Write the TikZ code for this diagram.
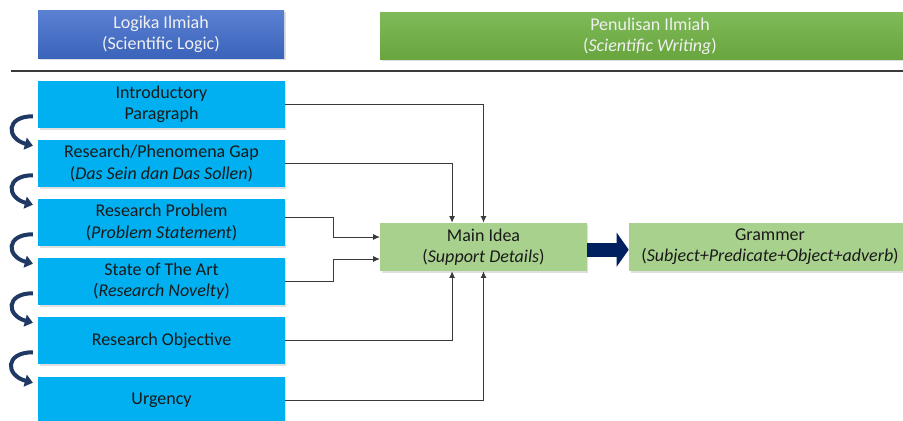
\documentclass[tikz,border=0pt]{standalone}
\usepackage{fontspec}
\setmainfont{Carlito}
\usetikzlibrary{arrows.meta,shadows}

\definecolor{logictop}{HTML}{5A80D2}
\definecolor{logicbot}{HTML}{3A63BA}
\definecolor{writetop}{HTML}{7EBA57}
\definecolor{writebot}{HTML}{68A53E}
\definecolor{skyblue}{HTML}{00B0F0}
\definecolor{leafgreen}{HTML}{A9D18E}
\definecolor{navyarrow}{HTML}{1F3864}
\definecolor{darknavy}{HTML}{002060}
\definecolor{linegray}{HTML}{3A3A3A}
\definecolor{inktext}{HTML}{1A1A1A}

\tikzset{
  shade/.style={drop shadow={opacity=0.25, shadow xshift=1.2pt, shadow yshift=-1.2pt}},
  header/.style={shade, minimum height=35.5pt, align=center, text=white!94!black, inner sep=0pt},
  logic/.style={shade, fill=skyblue, minimum width=185pt, minimum height=35.25pt, align=center, text=inktext, inner sep=0pt},
  idea/.style={shade, fill=leafgreen, minimum height=36pt, align=center, text=inktext, inner sep=0pt},
  link/.style={draw=linegray, line width=0.75pt, -{Latex[length=5pt,width=4.5pt]}},
  turn/.style={draw=navyarrow, line width=3pt, -{Triangle[length=6pt,width=9pt]}},
}

\begin{document}
\begin{tikzpicture}[x=0.75pt, y=-0.75pt, font=\fontsize{13.5pt}{16pt}\selectfont]
  \clip (0,0) rectangle (903,421);

  % headers
  \node[header, top color=logictop, bottom color=logicbot, minimum width=184.5pt] (logic) at (161,34.5) {Logika Ilmiah\\(Scientific Logic)};
  \node[header, top color=writetop, bottom color=writebot, minimum width=405pt] (writing) at (650,36) {Penulisan Ilmiah\\(\textit{Scientific Writing})};
  \draw[linegray, line width=1pt] (11,71) -- (903,71);

  % left column
  \node[logic] (intro) at (161.5,104.5) {Introductory\\Paragraph};
  \node[logic] (gap) at (161.5,163.5) {Research/Phenomena Gap\\(\textit{Das Sein dan Das Sollen})};
  \node[logic] (problem) at (161.5,222.5) {Research Problem\\(\textit{Problem Statement})};
  \node[logic] (art) at (161.5,281.5) {State of The Art\\(\textit{Research Novelty})};
  \node[logic] (objective) at (161.5,340.5) {Research Objective};
  \node[logic] (urgency) at (161.5,400.5) {Urgency};

  % right side
  \node[idea, minimum width=155pt] (main) at (483.5,247) {Main Idea\\(\textit{Support Details})};
  \node[idea, minimum width=211.5pt] (grammer) at (770,247) {Grammer\\(\textit{Subject+Predicate+Object+adverb})};

  \draw[darknavy, line width=10.5pt, -{Triangle[length=9pt,width=25pt]}] ([yshift=-2pt]main.east) -- ([yshift=-2pt]grammer.west);

  % into main idea
  \draw[link] (intro.east) -| (main.north);
  \draw[link] (gap.east) -| ([xshift=-23.6pt]main.north);
  \draw[link] ([yshift=3.75pt]problem.east) -- ++(36pt,0) |- ([yshift=7.5pt]main.west);
  \draw[link] (art.east) -- ++(36pt,0) |- ([yshift=-9pt]main.west);
  \draw[link] (objective.east) -| ([xshift=-23.6pt]main.south);
  \draw[link] (urgency.east) -| (main.south);

  % order of the steps
  \draw[turn] ([xshift=-3.75pt,yshift=9pt]intro.south west) to[out=180, in=165, looseness=2.4] ([xshift=-3.75pt,yshift=-4.5pt]gap.north west);
  \draw[turn] ([xshift=-3.75pt,yshift=9pt]gap.south west) to[out=180, in=165, looseness=2.4] ([xshift=-3.75pt,yshift=-4.5pt]problem.north west);
  \draw[turn] ([xshift=-3.75pt,yshift=9pt]problem.south west) to[out=180, in=165, looseness=2.4] ([xshift=-3.75pt,yshift=-4.5pt]art.north west);
  \draw[turn] ([xshift=-3.75pt,yshift=9pt]art.south west) to[out=180, in=165, looseness=2.4] ([xshift=-3.75pt,yshift=-4.5pt]objective.north west);
  \draw[turn] ([xshift=-3.75pt,yshift=9pt]objective.south west) to[out=180, in=165, looseness=2.4] ([xshift=-3.75pt,yshift=-4.5pt]urgency.north west);
\end{tikzpicture}
\end{document}
